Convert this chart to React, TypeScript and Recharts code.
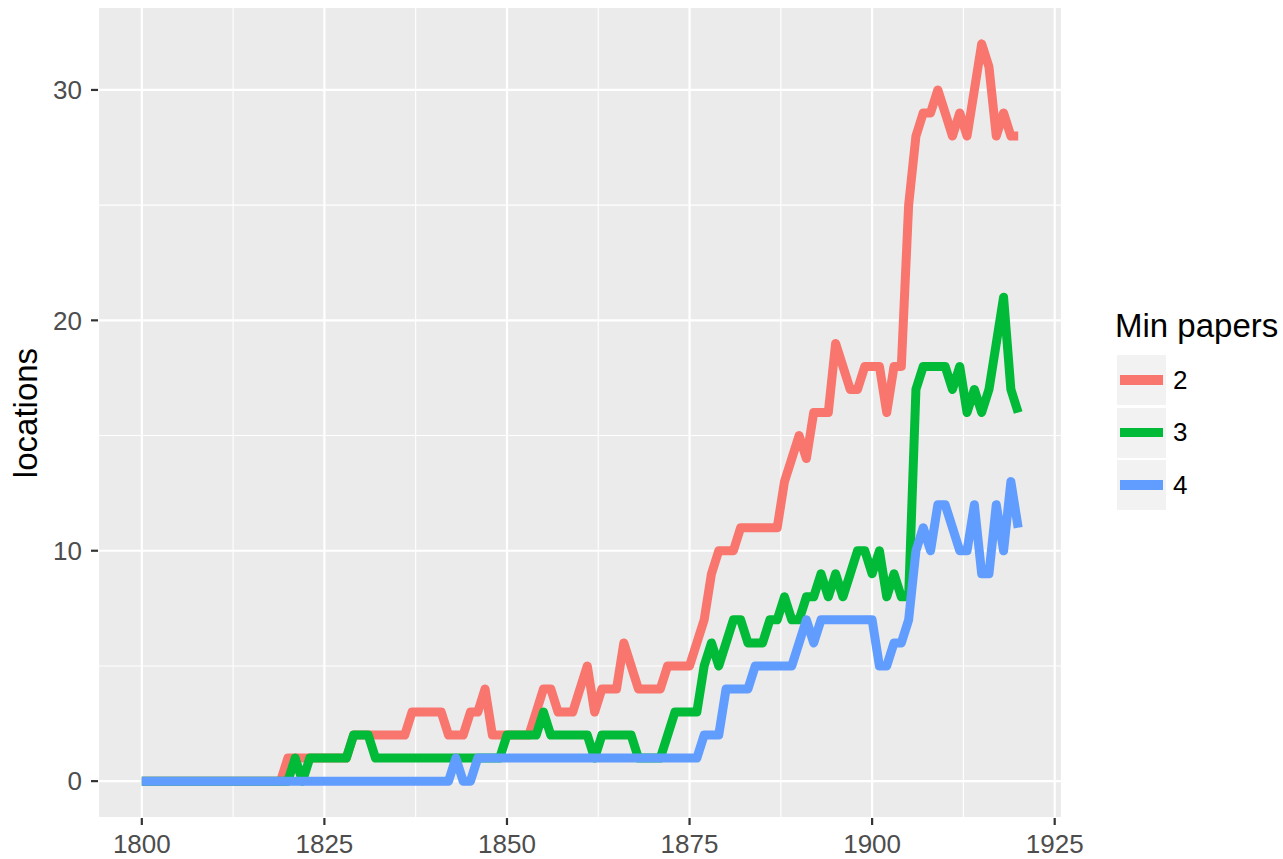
import { CartesianGrid, Line, LineChart, XAxis, YAxis } from "recharts";

// one row per year, 1800..1920
const firstYear = 1800;
const years = Array.from({ length: 121 }, (_, i) => firstYear + i);

// locations per year, grouped by decade
const minPapers2 = [
  0, 0, 0, 0, 0, 0, 0, 0, 0, 0,
  0, 0, 0, 0, 0, 0, 0, 0, 0, 0,
  1, 1, 1, 1, 1, 1, 1, 1, 1, 2,
  2, 2, 2, 2, 2, 2, 2, 3, 3, 3,
  3, 3, 2, 2, 2, 3, 3, 4, 2, 2,
  2, 2, 2, 2, 3, 4, 4, 3, 3, 3,
  4, 5, 3, 4, 4, 4, 6, 5, 4, 4,
  4, 4, 5, 5, 5, 5, 6, 7, 9, 10,
  10, 10, 11, 11, 11, 11, 11, 11, 13, 14,
  15, 14, 16, 16, 16, 19, 18, 17, 17, 18,
  18, 18, 16, 18, 18, 25, 28, 29, 29, 30,
  29, 28, 29, 28, 30, 32, 31, 28, 29, 28,
  28,
];

const minPapers3 = [
  0, 0, 0, 0, 0, 0, 0, 0, 0, 0,
  0, 0, 0, 0, 0, 0, 0, 0, 0, 0,
  0, 1, 0, 1, 1, 1, 1, 1, 1, 2,
  2, 2, 1, 1, 1, 1, 1, 1, 1, 1,
  1, 1, 1, 1, 1, 1, 1, 1, 1, 1,
  2, 2, 2, 2, 2, 3, 2, 2, 2, 2,
  2, 2, 1, 2, 2, 2, 2, 2, 1, 1,
  1, 1, 2, 3, 3, 3, 3, 5, 6, 5,
  6, 7, 7, 6, 6, 6, 7, 7, 8, 7,
  7, 8, 8, 9, 8, 9, 8, 9, 10, 10,
  9, 10, 8, 9, 8, 8, 17, 18, 18, 18,
  18, 17, 18, 16, 17, 16, 17, 19, 21, 17,
  16,
];

const minPapers4 = [
  0, 0, 0, 0, 0, 0, 0, 0, 0, 0,
  0, 0, 0, 0, 0, 0, 0, 0, 0, 0,
  0, 0, 0, 0, 0, 0, 0, 0, 0, 0,
  0, 0, 0, 0, 0, 0, 0, 0, 0, 0,
  0, 0, 0, 1, 0, 0, 1, 1, 1, 1,
  1, 1, 1, 1, 1, 1, 1, 1, 1, 1,
  1, 1, 1, 1, 1, 1, 1, 1, 1, 1,
  1, 1, 1, 1, 1, 1, 1, 2, 2, 2,
  4, 4, 4, 4, 5, 5, 5, 5, 5, 5,
  6, 7, 6, 7, 7, 7, 7, 7, 7, 7,
  7, 5, 5, 6, 6, 7, 10, 11, 10, 12,
  12, 11, 10, 10, 12, 9, 9, 12, 10, 13,
  11,
];

const seriesNames = ["2", "3", "4"];
const seriesColors = ["#F8766D", "#00BA38", "#619CFF"];
const seriesKeys = ["p2", "p3", "p4"];

const xTicks = [1800, 1825, 1850, 1875, 1900, 1925];
const xMinor = [1812.5, 1837.5, 1862.5, 1887.5, 1912.5];
const yTicks = [0, 10, 20, 30];
const yMinor = [5, 15, 25];

const data = years.map((year, i) => ({
  year,
  p2: minPapers2[i],
  p3: minPapers3[i],
  p4: minPapers4[i],
}));

const font = '"Liberation Sans", Arial, Helvetica, sans-serif';
const panelBg = "#EBEBEB";

function LegendBox() {
  return (
    <div
      style={{
        position: "absolute",
        left: 1117,
        top: 309,
        fontFamily: font,
        color: "#000",
      }}
    >
      <div
        style={{
          fontSize: 33,
          lineHeight: "33px",
          height: 46,
          marginLeft: -2,
          whiteSpace: "nowrap",
        }}
      >
        Min papers
      </div>
      {seriesNames.map((name, i) => (
        <div
          key={name}
          style={{ display: "flex", alignItems: "center", height: 50, marginBottom: 2.5 }}
        >
          <div
            style={{
              width: 49,
              height: 50,
              background: "#F2F2F2",
              display: "flex",
              alignItems: "center",
              justifyContent: "center",
            }}
          >
            <div style={{ width: 43, height: 9.5, background: seriesColors[i] }} />
          </div>
          <span style={{ fontSize: 26, marginLeft: 7 }}>{name}</span>
        </div>
      ))}
    </div>
  );
}

export default function App() {
  return (
    <div style={{ position: "absolute", left: 0, top: 0, width: 1283, height: 859 }}>
      <LineChart
        width={1283}
        height={859}
        data={data}
        margin={{ top: 7, right: 221, left: 0, bottom: 0 }}
        style={{ fontFamily: font }}
      >
        <CartesianGrid
          fill={panelBg}
          fillOpacity={1}
          stroke="#FFFFFF"
          strokeWidth={2.2}
        />
        <CartesianGrid
          horizontalValues={yMinor}
          verticalValues={xMinor}
          stroke="#FFFFFF"
          strokeWidth={1.1}
        />
        <XAxis
          dataKey="year"
          type="number"
          domain={[1794, 1926]}
          ticks={xTicks}
          interval={0}
          allowDataOverflow
          axisLine={false}
          height={41}
          tickSize={7}
          tickMargin={10}
          tickLine={{ stroke: "#333333", strokeWidth: 2.2 }}
          tick={{ fill: "#4D4D4D", fontSize: 26 }}
        />
        <YAxis
          type="number"
          domain={[-1.6, 33.6]}
          ticks={yTicks}
          interval={0}
          allowDataOverflow
          axisLine={false}
          width={98}
          tickSize={7}
          tickMargin={9}
          tickLine={{ stroke: "#333333", strokeWidth: 2.2 }}
          tick={{ fill: "#4D4D4D", fontSize: 26 }}
          label={{
            content: () => (
              <text
                x={37}
                y={413}
                transform="rotate(-90 37 413)"
                textAnchor="middle"
                fontSize={33}
                fill="#000"
                fontFamily={font}
              >
                locations
              </text>
            ),
          }}
        />
        {seriesKeys.map((key, i) => (
          <Line
            key={key}
            type="linear"
            dataKey={key}
            name={seriesNames[i]}
            stroke={seriesColors[i]}
            strokeWidth={9}
            strokeLinejoin="round"
            dot={false}
            activeDot={false}
            isAnimationActive={false}
          />
        ))}
      </LineChart>
      <LegendBox />
    </div>
  );
}
